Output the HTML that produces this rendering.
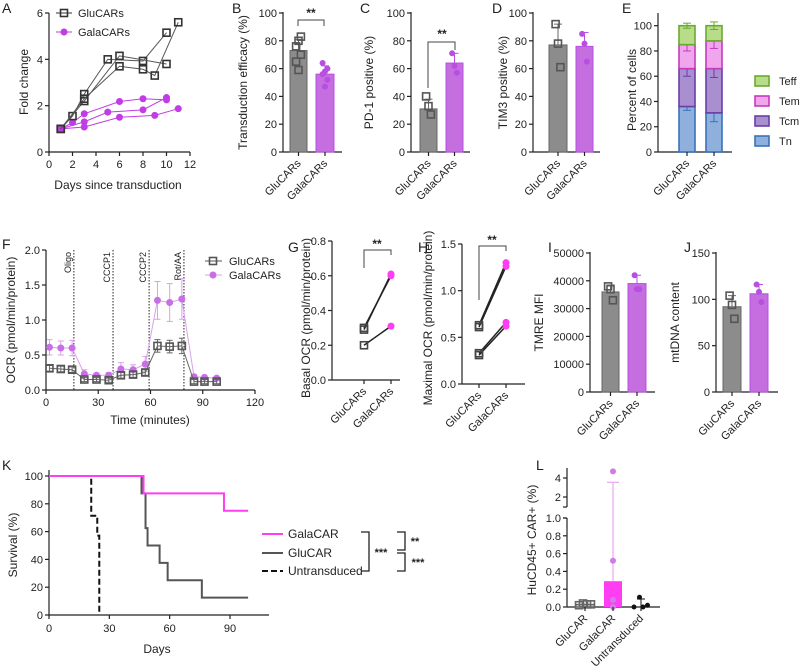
<!DOCTYPE html>
<html><head><meta charset="utf-8"><style>
body{margin:0;background:#fff}
svg{display:block;font-family:"Liberation Sans",sans-serif}
</style></head><body>
<svg id="fig" width="800" height="668" viewBox="0 0 800 668" xmlns="http://www.w3.org/2000/svg"></svg>
<script>
// ---- Panel A data ----
const aGluSeries=[[[1,1],[2,1.55],[3,2.5],[5,4.0],[8,3.93],[10,5.15]],[[1,1],[3,2.2],[6,4.15],[10,3.8]],[[1,1],[3,2.3],[6,3.7],[8,3.57],[9,3.3],[11,5.6]]];
const aGalaSeries=[[[1,1],[2,1.27],[3,1.65],[6,2.18],[8,2.3],[10,2.25]],[[1,1],[3,1.3],[5,1.72],[8,1.82],[10,2.35]],[[1,1],[3,1.08],[6,1.5],[9,1.58],[11,1.87]]];
const aXTicks=[0,2,4,6,8,10,12];
const aYTicks=[0,2,4,6];
// ---- Panel B ----
const bMeans=[73,56];
const bGluPts=[65,80,83,76,59,70];
const bGalaPts=[64,58,60,56,47,52];
const bErr=[8,6];
// ---- Panel C ----
const cMeans=[31,64];
const cGluPts=[40,33,27];
const cGalaPts=[71,62,57];
const cErr=[7,7];
// ---- Panel D ----
const dMeans=[77,76];
const dGluPts=[92,78,61];
const dGalaPts=[85,78,65];
const dErr=[15,10];
const pctTicks=[0,20,40,60,80,100];
// ---- Panel E ----
const eSubsets=["Tn","Tcm","Tem","Teff"];
const eGlu=[36,30,19,15];
const eGala=[31,35,22,12];
const eGluErr=[3,6,5,2];
const eGalaErr=[7,7,6,3];
// ---- Panel F ----
const fTimes=[2,8.5,15,22,29,36,43,50,57,64,71,78,85,91,98];
const fGlu=[.31,.30,.29,.15,.15,.14,.21,.22,.25,.63,.62,.63,.12,.12,.12];
const fGluErr=[.04,.04,.04,.03,.03,.03,.04,.04,.04,.09,.09,.11,.03,.03,.03];
const fGala=[.61,.60,.60,.23,.21,.21,.30,.29,.37,1.28,1.25,1.30,.19,.18,.17];
const fGalaErr=[.11,.10,.11,.06,.03,.04,.09,.07,.11,.27,.27,.29,.03,.02,.02];
const fInject=[16,38.5,59.2,79.2];
const fInjectLabels=["Oligo","CCCP1","CCCP2","Rot/AA"];
const fXTicks=[0,30,60,90,120];
const fYTicks=[0,0.5,1.0,1.5,2.0];
// ---- Panel G ----
const gGlu=[.30,.29,.20];
const gGala=[.60,.61,.31];
const gYTicks=[0,0.2,0.4,0.6,0.8];
// ---- Panel H ----
const hGlu=[.63,.61,.33,.31];
const hGala=[1.30,1.26,.66,.62];
const hYTicks=[0,0.5,1.0,1.5];
// ---- Panel I ----
const iMeans=[36000,39000];
const iGluPts=[38000,37000,33000];
const iGalaPts=[42000,37000,37000];
const iErr=[2500,3000];
const iYTicks=[0,10000,20000,30000,40000,50000];
// ---- Panel J ----
const jMeans=[92,106];
const jGluPts=[104,94,79];
const jGalaPts=[116,108,97];
const jErr=[12,10];
const jYTicks=[0,50,100,150];
// ---- Panel K ----
const kGalaT=[0,47,87,99], kGalaS=[100,87.5,75,75];
const kGluT=[0,46,48,49,55,59,76,99], kGluS=[100,87.5,62.5,50,37.5,25,12.5,12.5];
const kUntT=[0,21,24,25], kUntS=[100,71.4,57.1,0];
const kXTicks=[0,30,60,90];
const kYTicks=[0,20,40,60,80,100];
// ---- Panel L ----
const lCats=["GluCAR","GalaCAR","Untransduced"];
const lMeans=[0.03,0.29,0.03];
const lGluPts=[0.02,0.04,0.03,0.03];
const lGalaPts=[4.7,0.52,0.08,0.0];
const lUntPts=[0.0,0.11,0.0,0.02];
const lLowTicks=[0,0.2,0.4,0.6,0.8,1.0];
const lHighTicks=[2,4];

const S=document.getElementById('fig');
const NS='http://www.w3.org/2000/svg';
function el(tag,attrs,parent,name,txt){const e=document.createElementNS(NS,tag);for(const k in attrs)e.setAttribute(k,attrs[k]);


if(txt!==undefined)e.textContent=txt;(parent||S).appendChild(e);return e;}
function line(x1,y1,x2,y2,st,w,name,extra){const a={x1,y1,x2,y2,stroke:st,'stroke-width':w||1.2};Object.assign(a,extra||{});return el('line',a,null,name);}
function text(x,y,t,name,o){o=o||{};const a={x,y,'font-size':o.fs||11,fill:o.fill||'#222','text-anchor':o.anchor||'middle'};if(o.rot!==undefined)a.transform=`rotate(${o.rot} ${x} ${y})`;if(o.fw)a['font-weight']=o.fw;return el('text',a,null,name,t);}
function scale(d0,d1,r0,r1){return v=>r0+(v-d0)/(d1-d0)*(r1-r0);}
function yAxis(x,yS,ticks,top,bottom,name,fmt){line(x,top,x,bottom,'#222',1.2,name+'-line');ticks.forEach(t=>{const y=yS(t);line(x-4,y,x,y,'#222',1.2,name+'-tick');text(x-6,y+4,fmt?fmt(t):String(t),name+'-label',{anchor:'end'});});}
function sq(x,y,c,name){el('rect',{x:x-3.5,y:y-3.5,width:7,height:7,fill:'none',stroke:c||'#444','stroke-width':1.6},null,name);}
function dot(x,y,c,name,r){el('circle',{cx:x,cy:y,r:r||3.5,fill:c},null,name);}
const GRAY='#8c8c8c',PUR='#c46ee0',PURD='#b84fe0',MAG='#ff3df2';
function panelLetter(x,y,t){text(x,y,t,'panel-label-'+t.toLowerCase(),{fs:14,anchor:'start'});}
function catLabels(xs,labs,y,name){xs.forEach((x,i)=>{line(x,y,x,y+4,'#222',1.2,name+'-tick');text(x+3,y+12,labs[i],name+'-label',{anchor:'end',rot:-45});});}
function barPanel(o){
  const yS=scale(0,o.max,o.y0,o.yTop);
  yAxis(o.ax,yS,o.ticks,o.yTop-1,o.y0,o.id+'-y-axis',o.fmt);
  line(o.ax,o.y0,o.xEnd,o.y0,'#222',1.2,o.id+'-x-axis');
  const cols=[[GRAY,'#666'],[PUR,PURD]];
  o.bars.forEach((b,i)=>{
    const cx=(b[0]+b[1])/2,m=o.means[i];
    el('rect',{x:b[0],y:yS(m),width:b[1]-b[0],height:o.y0-yS(m),fill:cols[i][0],stroke:cols[i][1],'stroke-width':1},null,o.id+'-bar-'+(i?'gala':'glu'));
    line(cx,yS(m),cx,yS(m+o.err[i]),cols[i][1],1,o.id+'-error-bar');
    line(cx-4,yS(m+o.err[i]),cx+4,yS(m+o.err[i]),cols[i][1],1,o.id+'-error-cap');
    const pts=i?o.gala:o.glu;
    pts.forEach((p,k)=>{const dx=((k%3)-1)*4;if(i)dot(cx+dx*0.6,yS(p),PURD,o.id+'-point',3);else sq(cx+dx*0.6,yS(p),'#555',o.id+'-point');});
  });
  catLabels(o.bars.map(b=>(b[0]+b[1])/2),['GluCARs','GalaCARs'],o.y0,o.id+'-x');
  text(o.titleX,(o.y0+o.yTop)/2,o.title,o.id+'-y-title',{fs:12,rot:-90});
}
// ===== A =====
panelLetter(2,13,'A');
{const xS=scale(0,12,49,190),yS=scale(0,6,152,13);
yAxis(49,yS,aYTicks,13,152,'a-y-axis');line(49,152,190,152,'#222',1.2,'a-x-axis');
aXTicks.forEach(t=>{line(xS(t),152,xS(t),156,'#222',1.2,'a-x-tick');text(xS(t),168,String(t),'a-x-label');});
const draw=(ser,col,glu)=>ser.forEach(s=>{el('polyline',{points:s.map(p=>xS(p[0])+','+yS(p[1])).join(' '),fill:'none',stroke:col,'stroke-width':1},null,glu?'a-glu-line':'a-gala-line');
s.forEach(p=>glu?sq(xS(p[0]),yS(p[1]),'#333','a-glu-point'):dot(xS(p[0]),yS(p[1]),'#c23ce6','a-gala-point'));});
draw(aGalaSeries,'#c23ce6',false);draw(aGluSeries,'#555',true);
text(118,189,'Days since transduction','a-x-title',{fs:12});
text(28,82,'Fold change','a-y-title',{fs:12,rot:-90});
line(56,13,72,13,'#333',1,'a-legend-glu-line');sq(64,13,'#333','a-legend-glu-marker');text(78,17,'GluCARs','a-legend-glu-text',{anchor:'start'});
line(56,32,72,32,'#c23ce6',1,'a-legend-gala-line');dot(64,32,'#c23ce6','a-legend-gala-marker');text(78,36,'GalaCARs','a-legend-gala-text',{anchor:'start'});}
// ===== B =====
panelLetter(232,13,'B');
barPanel({id:'b',ax:283,y0:152,yTop:13,max:100,ticks:pctTicks,xEnd:342,bars:[[290,307],[316,334]],means:bMeans,err:bErr,glu:bGluPts,gala:bGalaPts,title:'Transduction efficacy (%)',titleX:247});
el('polyline',{points:'298,26 298,20 324,20 324,26',fill:'none',stroke:'#444','stroke-width':1},null,'b-significance-bracket');text(311,17,'**','b-significance-text',{fs:12,fw:'bold'});
// ===== C =====
panelLetter(360,13,'C');
barPanel({id:'c',ax:411,y0:152,yTop:13,max:100,ticks:pctTicks,xEnd:470,bars:[[420,437],[446,463]],means:cMeans,err:cErr,glu:cGluPts,gala:cGalaPts,title:'PD-1 positive (%)',titleX:373});
el('polyline',{points:'428,88 428,42 455,42 455,50',fill:'none',stroke:'#444','stroke-width':1},null,'c-significance-bracket');text(442,38,'**','c-significance-text',{fs:12,fw:'bold'});
// ===== D =====
panelLetter(492,13,'D');
barPanel({id:'d',ax:533,y0:152,yTop:13,max:100,ticks:pctTicks,xEnd:600,bars:[[549,567],[576,593]],means:dMeans,err:dErr,glu:dGluPts,gala:dGalaPts,title:'TIM3 positive (%)',titleX:507});
// ===== E =====
panelLetter(622,13,'E');
{const yS=scale(0,100,152,25.7);
yAxis(658,yS,pctTicks,13,152,'e-y-axis');line(658,152,732,152,'#222',1.2,'e-x-axis');
const fills=['#8fb0dc','#a98ed0','#f0a6ec','#b8dc8a'],strokes=['#3a72b8','#6a3fa6','#c43bbd','#6aab2e'];
[[679,695,eGlu,eGluErr],[706,722,eGala,eGalaErr]].forEach((b,bi)=>{let acc=0;b[2].forEach((v,i)=>{const y1=yS(acc+v),y0=yS(acc);
el('rect',{x:b[0],y:y1,width:b[1]-b[0],height:y0-y1,fill:fills[i],stroke:strokes[i],'stroke-width':1.6},null,'e-segment-'+eSubsets[i].toLowerCase());acc+=v;
const cx=(b[0]+b[1])/2;line(cx,yS(acc-b[3][i]),cx,yS(acc+b[3][i]),strokes[i],1,'e-error-bar');line(cx-4,yS(acc+b[3][i]),cx+4,yS(acc+b[3][i]),strokes[i],1,'e-error-cap');line(cx-4,yS(acc-b[3][i]),cx+4,yS(acc-b[3][i]),strokes[i],1,'e-error-cap');});});
catLabels([687,714],['GluCARs','GalaCARs'],152,'e-x');
text(636,90,'Percent of cells','e-y-title',{fs:12,rot:-90});
[3,2,1,0].forEach((i,k)=>{const y=82+k*20;el('rect',{x:755,y:y-6,width:14,height:10,fill:fills[i],stroke:strokes[i],'stroke-width':1.6},null,'e-legend-swatch-'+eSubsets[i].toLowerCase());text(779,y+3,eSubsets[i],'e-legend-text',{anchor:'start'});});}
// ===== F =====
panelLetter(2,249,'F');
{const xS=scale(0,120,46,255),yS=scale(0,2,390,250);
yAxis(46,yS,fYTicks,250,390,'f-y-axis',t=>t.toFixed(1));line(46,390,255,390,'#222',1.2,'f-x-axis');
fXTicks.forEach(t=>{line(xS(t),390,xS(t),394,'#222',1.2,'f-x-tick');text(xS(t),406,String(t),'f-x-label');});
fInject.forEach((t,i)=>{line(xS(t),250,xS(t),390,'#222',1,'f-injection-line',{'stroke-dasharray':'1.5,1.5'});text(xS(t)-3,252,fInjectLabels[i],'f-injection-label',{fs:9,anchor:'end',rot:-90});});
const draw=(v,e,col,glu)=>{el('polyline',{points:fTimes.map((t,i)=>xS(t)+','+yS(v[i])).join(' '),fill:'none',stroke:col,'stroke-width':1},null,glu?'f-glu-line':'f-gala-line');
fTimes.forEach((t,i)=>{const x=xS(t);line(x,yS(v[i]-e[i]),x,yS(v[i]+e[i]),col,1,'f-error-bar');line(x-3,yS(v[i]+e[i]),x+3,yS(v[i]+e[i]),col,1,'f-error-cap');line(x-3,yS(v[i]-e[i]),x+3,yS(v[i]-e[i]),col,1,'f-error-cap');
glu?sq(x,yS(v[i]),'#555','f-glu-point'):dot(x,yS(v[i]),'#c86ee6','f-gala-point');});};
draw(fGala,fGalaErr,'#d9a0ee',false);draw(fGlu,fGluErr,'#666',true);
text(150,424,'Time (minutes)','f-x-title',{fs:12});
text(15,320,'OCR (pmol/min/protein)','f-y-title',{fs:12,rot:-90});
line(205,261,222,261,'#555',1,'f-legend-glu-line');sq(213,261,'#555','f-legend-glu-marker');text(229,265,'GluCARs','f-legend-glu-text',{anchor:'start'});
line(205,275,222,275,'#d9a0ee',1,'f-legend-gala-line');dot(213,275,'#c86ee6','f-legend-gala-marker');text(229,279,'GalaCARs','f-legend-gala-text',{anchor:'start'});}
// ===== G =====
panelLetter(288,252,'G');
{const yS=scale(0,0.8,380,241);
yAxis(332,yS,gYTicks,241,380,'g-y-axis',t=>t.toFixed(1));line(332,380,400,380,'#222',1.2,'g-x-axis');
gGlu.forEach((v,i)=>{line(364,yS(v),391,yS(gGala[i]),'#222',1.5,'g-paired-line');});
gGlu.forEach(v=>sq(364,yS(v),'#444','g-glu-point'));gGala.forEach(v=>dot(391,yS(v),MAG,'g-gala-point',3.5));
catLabels([364,391],['GluCARs','GalaCARs'],380,'g-x');
el('polyline',{points:'364,268 364,250 391,250 391,255',fill:'none',stroke:'#444','stroke-width':1},null,'g-significance-bracket');text(377,248,'**','g-significance-text',{fs:12,fw:'bold'});
text(310,318,'Basal OCR (pmol/min/protein)','g-y-title',{fs:12,rot:-90});}
// ===== H =====
panelLetter(418,252,'H');
{const yS=scale(0,1.5,384,244);
yAxis(462,yS,hYTicks,244,384,'h-y-axis',t=>t.toFixed(1));line(462,384,525,384,'#222',1.2,'h-x-axis');
hGlu.forEach((v,i)=>{line(479,yS(v),506,yS(hGala[i]),'#222',1.5,'h-paired-line');});
hGlu.forEach(v=>sq(479,yS(v),'#444','h-glu-point'));hGala.forEach(v=>dot(506,yS(v),MAG,'h-gala-point',3.5));
catLabels([479,506],['GluCARs','GalaCARs'],384,'h-x');
el('polyline',{points:'479,300 479,246 506,246 506,251',fill:'none',stroke:'#444','stroke-width':1},null,'h-significance-bracket');text(492,244,'**','h-significance-text',{fs:12,fw:'bold'});
text(432,318,'Maximal OCR (pmol/min/protein)','h-y-title',{fs:12,rot:-90});}
// ===== I =====
panelLetter(548,252,'I');
barPanel({id:'i',ax:590,y0:392,yTop:253,max:50000,ticks:iYTicks,xEnd:655,bars:[[602,619],[628,646]],means:iMeans,err:iErr,glu:iGluPts,gala:iGalaPts,title:'TMRE MFI',titleX:543});
// ===== J =====
panelLetter(684,252,'J');
barPanel({id:'j',ax:716,y0:392,yTop:253,max:150,ticks:jYTicks,xEnd:778,bars:[[723,741],[750,768]],means:jMeans,err:jErr,glu:jGluPts,gala:jGalaPts,title:'mtDNA content',titleX:679});
// ===== K =====
panelLetter(2,470,'K');
{const xS=scale(0,90,49,230),yS=scale(0,100,615,476);
yAxis(49,yS,kYTicks,470,615,'k-y-axis');line(49,615,269,615,'#222',1.2,'k-x-axis');
kXTicks.forEach(t=>{line(xS(t),615,xS(t),619,'#222',1.2,'k-x-tick');text(xS(t),632,String(t),'k-x-label');});
const step=(T,Sv)=>{let p=xS(T[0])+','+yS(Sv[0]);for(let i=1;i<T.length;i++){p+=' '+xS(T[i])+','+yS(Sv[i-1])+' '+xS(T[i])+','+yS(Sv[i]);}return p;};
el('polyline',{points:step(kUntT,kUntS),fill:'none',stroke:'#111','stroke-width':2,'stroke-dasharray':'6,3'},null,'k-untransduced-curve');
el('polyline',{points:step(kGluT,kGluS),fill:'none',stroke:'#555','stroke-width':2},null,'k-glucar-curve');
el('polyline',{points:step(kGalaT,kGalaS),fill:'none',stroke:MAG,'stroke-width':2},null,'k-galacar-curve');
text(157,653,'Days','k-x-title',{fs:12});
text(17,545,'Survival (%)','k-y-title',{fs:12,rot:-90});
line(262,534,283,534,MAG,2,'k-legend-galacar-line');text(288,538,'GalaCAR','k-legend-galacar-text',{anchor:'start',fs:12});
line(262,553,283,553,'#555',2,'k-legend-glucar-line');text(288,557,'GluCAR','k-legend-glucar-text',{anchor:'start',fs:12});
line(262,571,283,571,'#111',2,'k-legend-untransduced-line',{'stroke-dasharray':'6,3'});text(288,575,'Untransduced','k-legend-untransduced-text',{anchor:'start',fs:12});
el('polyline',{points:'361,532 369,532 369,571 361,571',fill:'none',stroke:'#222','stroke-width':1.3},null,'k-bracket-gala-unt');text(381,556,'***','k-sig-gala-unt',{fs:11,fw:'bold'});
el('polyline',{points:'397,532 405,532 405,550 397,550',fill:'none',stroke:'#222','stroke-width':1.3},null,'k-bracket-gala-glu');text(415,545,'**','k-sig-gala-glu',{fs:11,fw:'bold'});
el('polyline',{points:'397,553 405,553 405,571 397,571',fill:'none',stroke:'#222','stroke-width':1.3},null,'k-bracket-glu-unt');text(418,566,'***','k-sig-glu-unt',{fs:11,fw:'bold'});}
// ===== L =====
panelLetter(536,470,'L');
{const yLo=scale(0,1,607,518),yHi=scale(2,4,497,478);
const yv=v=>v<=1?yLo(v):yHi(v);
line(567,518,567,607,'#222',1.2,'l-y-axis-lower');line(567,468,567,507,'#222',1.2,'l-y-axis-upper');
line(563,507,567,507,'#222',1.2,'l-y-break');line(563,518,567,518,'#222',1.2,'l-y-break');
lLowTicks.forEach(t=>{line(563,yLo(t),567,yLo(t),'#222',1.2,'l-y-tick');text(561,yLo(t)+4,t.toFixed(1),'l-y-label',{anchor:'end'});});
lHighTicks.forEach(t=>{line(563,yHi(t),567,yHi(t),'#222',1.2,'l-y-tick');text(561,yHi(t)+4,String(t),'l-y-label',{anchor:'end'});});
line(567,607,660,607,'#222',1.2,'l-x-axis');
const xs=[585,613,641];
el('rect',{x:576,y:yLo(lMeans[0]),width:18,height:607-yLo(lMeans[0]),fill:'#bbb',stroke:'#555'},null,'l-bar-glucar');
el('rect',{x:604,y:yLo(lMeans[1]),width:18,height:607-yLo(lMeans[1]),fill:MAG},null,'l-bar-galacar');
line(613,yv(3.55),613,yLo(lMeans[1]),'#e7a6f2',1.2,'l-error-bar');line(607,yv(3.55),619,yv(3.55),'#e7a6f2',1.2,'l-error-cap');
lGluPts.forEach((v,k)=>sq(xs[0]-6+k*4,yLo(v),'#666','l-glucar-point'));
lGalaPts.forEach(v=>dot(xs[1],yv(v),'#d07ae8','l-galacar-point',3));
line(641,yLo(0.09),641,607,'#111',1,'l-error-bar');line(637,yLo(0.09),645,yLo(0.09),'#111',1,'l-error-cap');
lUntPts.forEach((v,k)=>dot(xs[2]-7+k*4.5+(k==1?1:0),yLo(v),'#111','l-untransduced-point',2.5));
catLabels(xs,lCats,607,'l-x');
text(536,540,'HuCD45+ CAR+ (%)','l-y-title',{fs:12,rot:-90});}
</script>
</body></html>
